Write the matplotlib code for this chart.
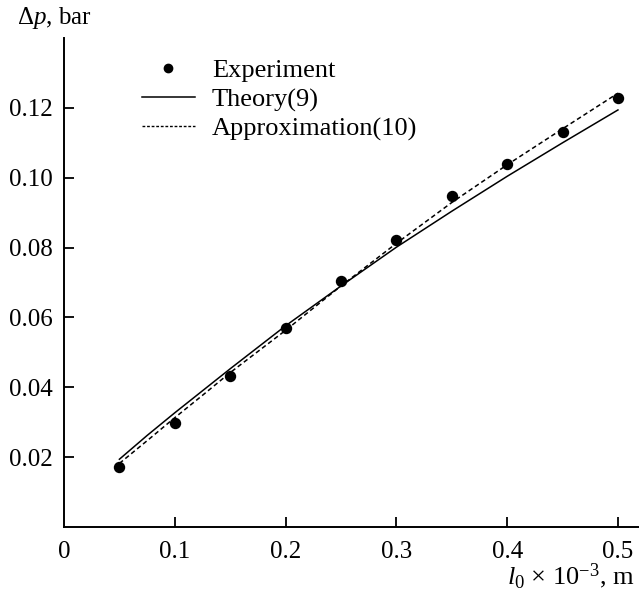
import matplotlib
matplotlib.use("Agg")
import matplotlib.pyplot as plt
from matplotlib.lines import Line2D

plt.rcParams['font.family'] = ['Liberation Serif', 'DejaVu Serif']
plt.rcParams['mathtext.fontset'] = 'custom'
plt.rcParams['mathtext.rm'] = 'Liberation Serif'
plt.rcParams['mathtext.it'] = 'Liberation Serif:italic'

x_exp = [0.05, 0.10, 0.15, 0.20, 0.25, 0.30, 0.35, 0.40, 0.45, 0.50]
y_exp = [0.0171, 0.0297, 0.0432, 0.0569, 0.0704, 0.0823, 0.0949, 0.1040, 0.1132, 0.1227]

x_line = [0.05, 0.075, 0.10, 0.125, 0.15, 0.20, 0.25, 0.30, 0.35, 0.40, 0.45, 0.50]
y_theory = [0.0194, 0.0262, 0.0327, 0.0390, 0.0453, 0.0576, 0.0690, 0.0801, 0.0904, 0.1004, 0.1100, 0.1194]
y_approx = [0.0182, 0.0247, 0.0313, 0.0377, 0.0442, 0.0563, 0.0690, 0.0812, 0.0929, 0.1037, 0.1140, 0.1242]

x_ticks = [0, 0.1, 0.2, 0.3, 0.4, 0.5]
x_ticklabels = ["0", "0.1", "0.2", "0.3", "0.4", "0.5"]
y_ticks = [0.02, 0.04, 0.06, 0.08, 0.10, 0.12]
y_ticklabels = ["0.02", "0.04", "0.06", "0.08", "0.10", "0.12"]

FS = 19

fig = plt.figure(figsize=(6.39, 5.9), dpi=100)
ax = fig.add_axes([64/639, 63/590, 1 - 64/639, (527-38)/590])

ax.plot(x_line, y_theory, '-', color='black', lw=1.1)
ax.plot(x_line, y_approx, '--', color='black', lw=1.1, dashes=(3, 2))
ax.plot(x_exp, y_exp, 'o', color='black', ms=7.2, ls='none')

ax.set_xlim(0, 0.519)
ax.set_ylim(0, 0.14)
ax.set_xticks(x_ticks)
ax.set_xticklabels(x_ticklabels)
ax.set_yticks(y_ticks)
ax.set_yticklabels(y_ticklabels)
ax.tick_params(direction='in', length=7, width=1.3, labelsize=18)
ax.tick_params(axis='y', pad=8)
ax.tick_params(axis='x', pad=10)
ax.xaxis.get_major_ticks()[0].tick1line.set_visible(False)
for s in ['top', 'right']:
    ax.spines[s].set_visible(False)
for s in ['left', 'bottom']:
    ax.spines[s].set_linewidth(1.4)

handles = [
    Line2D([], [], marker='o', color='black', ls='none', ms=6),
    Line2D([], [], color='black', lw=1.1),
    Line2D([], [], color='black', lw=1.0, ls=(0, (2, 1.3))),
]
labels = ["Experiment", "Theory(9)", "Approximation(10)"]
fig.legend(handles, labels, loc='upper left', bbox_to_anchor=(142/639, 1 - 59/590),
           frameon=False, fontsize=FS, handlelength=2.0, handletextpad=0.65,
           labelspacing=0.2, borderaxespad=0, borderpad=0)

fig.text(17/639, 1 - 18/590, r"Δ$\mathit{p}$, bar", fontsize=18, va='center', ha='left')
fig.text(634/639, 1 - 576/590, r"$\mathit{l}_0$ × 10$^{-3}$, m", fontsize=FS, va='center', ha='right')

fig.savefig("out.png", dpi=100)
